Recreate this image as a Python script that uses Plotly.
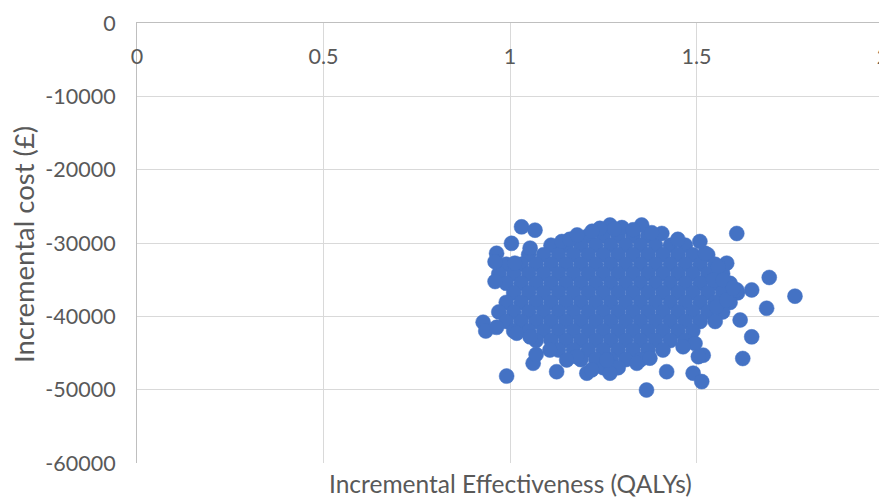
import plotly.graph_objects as go

# ---- data ----
# interior of the dense cloud: one list of effectiveness values per cost row
cloud_cost_rows = [-29000, -30300, -31600, -32900, -34200, -35500, -36800,
                   -38100, -39400, -40700, -42000, -43300, -44600, -45900, -47000]
cloud_effect_rows = [
    [1.21, 1.25, 1.29, 1.33, 1.37],
    [1.11, 1.15, 1.19, 1.23, 1.27, 1.31, 1.35, 1.39, 1.43, 1.47],
    [1.05, 1.09, 1.13, 1.17, 1.21, 1.25, 1.29, 1.33, 1.37, 1.41, 1.45, 1.49, 1.53],
    [0.99, 1.03, 1.07, 1.11, 1.15, 1.19, 1.23, 1.27, 1.31, 1.35, 1.39, 1.43, 1.47, 1.51, 1.55],
    [0.97, 1.01, 1.05, 1.09, 1.13, 1.17, 1.21, 1.25, 1.29, 1.33, 1.37, 1.41, 1.45, 1.49, 1.53, 1.57],
    [0.99, 1.03, 1.07, 1.11, 1.15, 1.19, 1.23, 1.27, 1.31, 1.35, 1.39, 1.43, 1.47, 1.51, 1.55, 1.59],
    [1.01, 1.05, 1.09, 1.13, 1.17, 1.21, 1.25, 1.29, 1.33, 1.37, 1.41, 1.45, 1.49, 1.53, 1.57, 1.61],
    [0.99, 1.03, 1.07, 1.11, 1.15, 1.19, 1.23, 1.27, 1.31, 1.35, 1.39, 1.43, 1.47, 1.51, 1.55, 1.59],
    [0.97, 1.01, 1.05, 1.09, 1.13, 1.17, 1.21, 1.25, 1.29, 1.33, 1.37, 1.41, 1.45, 1.49, 1.53, 1.57],
    [0.99, 1.03, 1.07, 1.11, 1.15, 1.19, 1.23, 1.27, 1.31, 1.35, 1.39, 1.43, 1.47, 1.51, 1.55],
    [1.01, 1.05, 1.09, 1.13, 1.17, 1.21, 1.25, 1.29, 1.33, 1.37, 1.41, 1.45, 1.49],
    [1.07, 1.11, 1.15, 1.19, 1.23, 1.27, 1.31, 1.35, 1.39, 1.43, 1.47],
    [1.13, 1.17, 1.21, 1.25, 1.29, 1.33, 1.37, 1.41],
    [1.19, 1.23, 1.27, 1.31, 1.35],
    [1.25, 1.29],
]

# scattered simulations around the edge of the cloud
edge_effect = [0.928, 0.935, 0.964, 0.991, 1.031, 1.067, 1.004, 0.964, 0.960, 0.960,
               1.054, 1.062, 1.125, 1.206, 1.219, 1.268, 1.366, 1.420, 1.491, 1.514,
               1.496, 1.518, 1.505, 1.624, 1.648, 1.617, 1.688, 1.764, 1.695, 1.648,
               1.608, 1.608, 1.581, 1.558, 1.523, 1.509, 1.407, 1.353, 1.268, 1.241,
               1.139, 1.070, 1.018, 1.054, 1.013, 1.554, 1.581, 1.545, 1.571, 1.598,
               1.464, 1.259, 1.340, 1.375, 1.179, 1.152, 1.107,
               1.220, 1.300, 1.330, 1.380, 1.450, 1.160, 1.280, 1.180]
edge_cost = [-40800, -42000, -41500, -48150, -27800, -28250, -30050, -31400, -32550, -35250,
             -30700, -46400, -47550, -47750, -47300, -47750, -50050, -47550, -47750, -48900,
             -43700, -45300, -45500, -45750, -42800, -40500, -38900, -37250, -34700, -36400,
             -36400, -28700, -32750, -33250, -31400, -29800, -28700, -27550, -27550, -28000,
             -29800, -45200, -42300, -42800, -32750, -38700, -37750, -35050, -35050, -36150,
             -44150, -45950, -46400, -45700, -45500, -45950, -44600,
             -28400, -27900, -28200, -28600, -29500, -29500, -28100, -28900]

x_ticks = [0, 0.5, 1, 1.5, 2]
x_tick_labels = ["0", "0.5", "1", "1.5", "2"]
y_ticks = [0, -10000, -20000, -30000, -40000, -50000, -60000]
y_tick_labels = ["0", "-10000", "-20000", "-30000", "-40000", "-50000", "-60000"]

effect = []
cost = []
for c, row in zip(cloud_cost_rows, cloud_effect_rows):
    for e in row:
        effect.append(e)
        cost.append(c)
effect += edge_effect
cost += edge_cost

FONT = "Lato"
TXT = "#595959"
GRID = "#d9d9d9"
TICK_SIZE = 21.5

# page body has an 8px margin, so the figure is drawn 8px in from the top-left
W, H = 879, 490
ML, MR, MT, MB = 129, 4, 15, 35
PLOT_W = W - ML - MR
PLOT_H = H - MT - MB

fig = go.Figure()
fig.add_trace(go.Scatter(
    x=effect, y=cost, mode="markers",
    marker=dict(size=15, color="#4472C4", line=dict(width=0.5, color="#4472C4")),
    hoverinfo="x+y",
))
# label-only copy of the x axis, drawn just under the zero line (Excel style)
fig.add_trace(go.Scatter(x=[None], y=[None], xaxis="x2", yaxis="y",
                         mode="markers", showlegend=False, hoverinfo="skip"))

fig.update_layout(
    width=W, height=H,
    margin=dict(l=ML, r=MR, t=MT, b=MB, autoexpand=False),
    paper_bgcolor="white", plot_bgcolor="white",
    showlegend=False,
    font=dict(family=FONT, color=TXT, size=TICK_SIZE),
    xaxis=dict(
        range=[0, 2], side="top", tickvals=x_ticks, showticklabels=False,
        showgrid=True, gridcolor=GRID, gridwidth=1,
        showline=True, linecolor="#bfbfbf", linewidth=1,
        zeroline=False, ticks="", automargin=False,
    ),
    xaxis2=dict(
        range=[0, 2], overlaying="x", side="bottom", anchor="free",
        position=(PLOT_H - 18) / PLOT_H,
        tickvals=x_ticks, ticktext=x_tick_labels,
        showgrid=False, showline=False, zeroline=False, ticks="",
        automargin=False, ticklabelstandoff=0, ticklabeloverflow="allow",
        tickfont=dict(family=FONT, size=TICK_SIZE, color=TXT),
    ),
    yaxis=dict(
        range=[-60000, 0], tickvals=y_ticks, ticktext=y_tick_labels,
        showgrid=True, gridcolor=GRID, gridwidth=1,
        showline=True, linecolor="#bfbfbf", linewidth=1,
        zeroline=False, ticks="", ticklabelstandoff=16, automargin=False,
        tickfont=dict(family=FONT, size=TICK_SIZE, color=TXT),
    ),
    annotations=[
        dict(text="Incremental Effectiveness (QALYs)", xref="paper", yref="paper",
             x=0.5, y=-20 / PLOT_H, xanchor="center", yanchor="middle", showarrow=False,
             font=dict(family=FONT, size=24.5, color=TXT)),
        dict(text="Incremental cost (£)", xref="paper", yref="paper",
             x=-(ML - 15) / PLOT_W, y=0.5 - 2 / PLOT_H, xanchor="center", yanchor="middle",
             textangle=-90, showarrow=False,
             font=dict(family=FONT, size=27.5, color=TXT)),
    ],
)

fig.write_html("out.html")
